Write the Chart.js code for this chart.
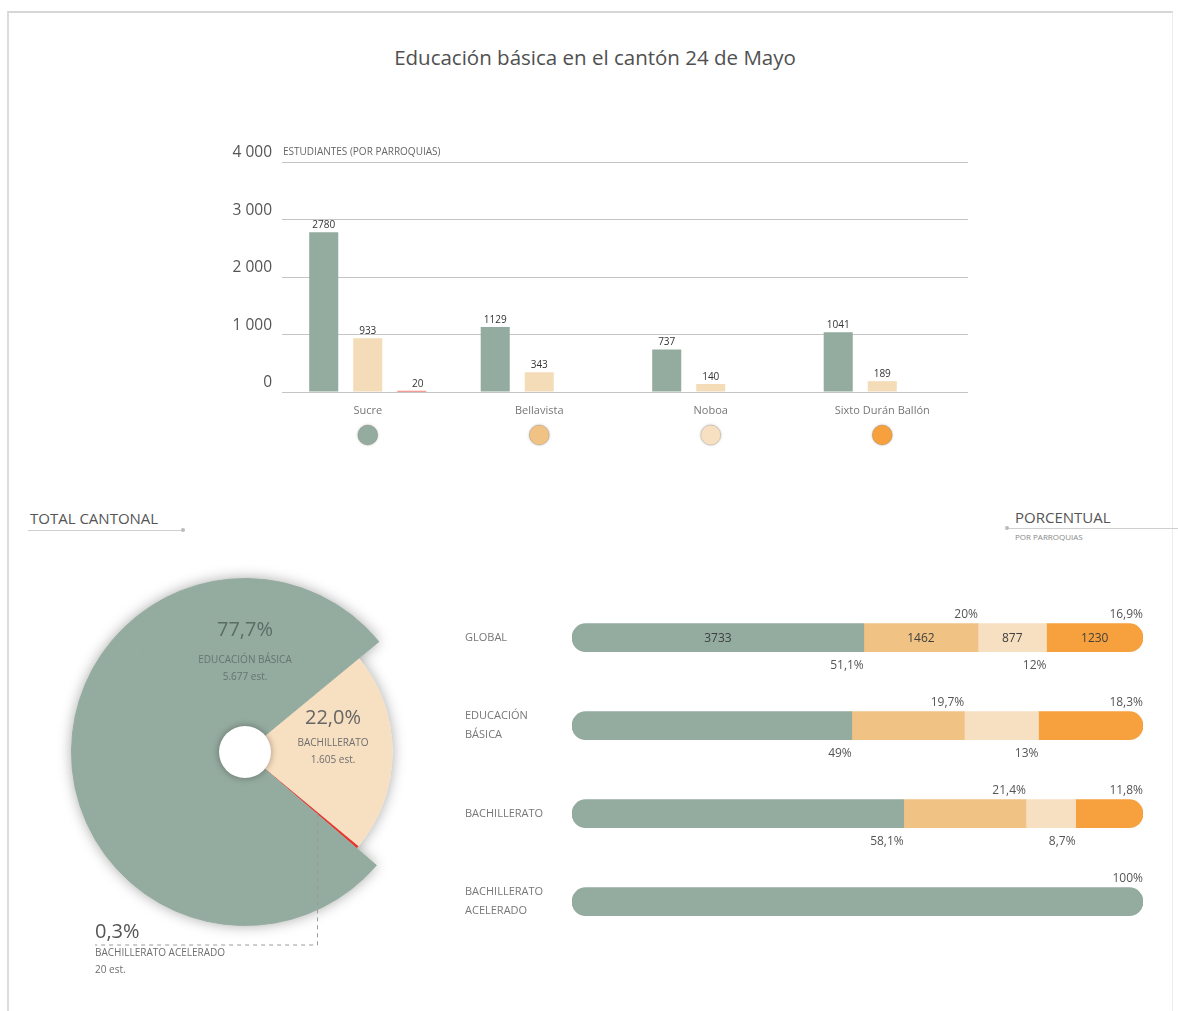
<!DOCTYPE html>
<html><head><meta charset="utf-8">
<script src="https://cdn.jsdelivr.net/npm/chart.js@4.4.1/dist/chart.umd.min.js"></script>
<style>
html,body{margin:0;padding:0;background:#fff;width:1178px;height:1011px;overflow:hidden;font-family:'Open Sans',sans-serif;}
.abs{position:absolute;}
#frame{left:7px;top:11px;width:1163px;height:1010px;border-top:2px solid #d6d6d6;border-left:2px solid #dcdcdc;border-right:1px solid #ececec;}
#title{left:0;width:1190px;top:43px;text-align:center;font-size:20.5px;color:#505050;}
.hdr{font-size:15px;color:#555;}
.sub{font-size:8px;color:#888;}
.line{height:1px;background:#cfcfcf;}
.dot{width:4px;height:4px;border-radius:2px;background:#bbb;}
canvas{position:absolute;}
</style></head>
<body>
<div id="frame" class="abs"></div>
<div id="title" class="abs">Educación básica en el cantón 24 de Mayo</div>
<div class="abs hdr" style="left:30px;top:508px;">TOTAL CANTONAL</div>
<div class="abs line" style="left:28px;top:530px;width:155px;"></div>
<div class="abs dot" style="left:181px;top:528px;"></div>
<div class="abs hdr" style="left:1015px;top:507px;">PORCENTUAL</div>
<div class="abs sub" style="left:1015px;top:531px;">POR PARROQUIAS</div>
<div class="abs line" style="left:1007px;top:528px;width:171px;"></div>
<div class="abs dot" style="left:1005px;top:526px;"></div>
<canvas id="bars" width="800" height="330" style="left:200px;top:130px;"></canvas>
<canvas id="pie" width="430" height="470" style="left:0px;top:540px;"></canvas>
<canvas id="hbar" width="723" height="380" style="left:455px;top:575px;"></canvas>
<script>
// ---------- DATA ----------
const categories = ['Sucre', 'Bellavista', 'Noboa', 'Sixto Durán Ballón'];
const basica = [2780, 1129, 737, 1041];
const bachillerato = [933, 343, 140, 189];
const acelerado = [20, null, null, null];
const yTicks = [0, 1000, 2000, 3000, 4000];

const pieLabels = ['Bachillerato', 'Bachillerato acelerado', 'Educación básica'];
const piePct = [22.0, 0.3, 77.7];
const pieStudents = ['1.605', '20', '5.677'];

const rowLabels = [['GLOBAL'], ['EDUCACIÓN', 'BÁSICA'], ['BACHILLERATO'], ['BACHILLERATO', 'ACELERADO']];
const pctSucre = [51.1, 49, 58.1, 100];
const pctBellavista = [20, 19.7, 21.4, null];
const pctNoboa = [12, 13, 8.7, null];
const pctSixto = [16.9, 18.3, 11.8, null];
const globalCounts = [3733, 1462, 877, 1230];

// ---------- STYLE ----------
const C = {teal:'#94ab9f', lightOrange:'#f0c283', cream:'#f7dfc1', orange:'#f6a13d', red:'#e8362b', creamTop:'#f5dcb8'};
const parishColors = [C.teal, C.lightOrange, C.cream, C.orange];
Chart.defaults.font.family = "'Open Sans', sans-serif";
const fmtPct = v => String(v).replace('.', ',') + '%';

// ---------- TOP BAR CHART ----------
const topPlugin = {
  id: 'topPlugin',
  afterDatasetsDraw(chart) {
    const ctx = chart.ctx;
    ctx.save();
    ctx.font = "10px 'Open Sans'";
    ctx.fillStyle = '#333';
    ctx.textAlign = 'center';
    ctx.textBaseline = 'bottom';
    chart.data.datasets.forEach((ds, di) => {
      chart.getDatasetMeta(di).data.forEach((bar, i) => {
        const v = ds.data[i];
        if (v == null) return;
        const dx = di === 2 ? 6 : 0;
        ctx.fillText(String(v), bar.x + dx, bar.y - 2);
      });
    });
    const ys = chart.scales.y;
    ctx.font = "10px 'Open Sans'";
    ctx.fillStyle = '#666';
    ctx.textAlign = 'left';
    ctx.textBaseline = 'middle';
    ctx.fillText('ESTUDIANTES (POR PARROQUIAS)', chart.chartArea.left + 1, ys.getPixelForValue(4000) - 10);
    const xs = chart.scales.x;
    categories.forEach((c, i) => {
      const x = xs.getPixelForValue(i);
      ctx.save();
      ctx.shadowColor = 'rgba(0,0,0,0.25)';
      ctx.shadowBlur = 3;
      ctx.beginPath();
      ctx.arc(x, 305, 10, 0, Math.PI * 2);
      ctx.fillStyle = parishColors[i];
      ctx.fill();
      ctx.restore();
      ctx.beginPath();
      ctx.arc(x, 305, 10, 0, Math.PI * 2);
      ctx.strokeStyle = 'rgba(0,0,0,0.12)';
      ctx.lineWidth = 1;
      ctx.stroke();
    });
    ctx.restore();
  }
};

new Chart(document.getElementById('bars'), {
  type: 'bar',
  data: {
    labels: categories,
    datasets: [
      {label: 'Educación básica', data: basica, backgroundColor: C.teal},
      {label: 'Bachillerato', data: bachillerato, backgroundColor: C.creamTop},
      {label: 'Bachillerato acelerado', data: acelerado, backgroundColor: C.red}
    ]
  },
  options: {
    responsive: false, animation: false, events: [],
    layout: {padding: {left: 0, right: 32, top: 32, bottom: 0}},
    plugins: {legend: {display: false}, tooltip: {enabled: false}},
    datasets: {bar: {categoryPercentage: 0.77, barPercentage: 0.66}},
    scales: {
      x: {
        grid: {display: false}, border: {display: false},
        ticks: {color: '#777', font: {size: 11}, padding: 4},
        afterFit(s) { s.height = 68; }
      },
      y: {
        min: 0, max: 4000,
        afterBuildTicks(s) { s.ticks = yTicks.map(v => ({value: v})); },
        grid: {color: '#c4c4c4', drawTicks: false}, border: {display: false},
        ticks: {color: '#555', font: {size: 15.5}, padding: 10, labelOffset: -9,
          callback: v => v === 0 ? '0' : (v / 1000) + ' 000'},
        afterFit(s) { s.width = 82; }
      }
    }
  },
  plugins: [topPlugin]
});

// ---------- PIE ----------
const piePlugin = {
  id: 'piePlugin',
  beforeDatasetsDraw(chart) {
    const ctx = chart.ctx;
    const outer = chart.getDatasetMeta(0).data;
    const inner = chart.getDatasetMeta(1).data;
    const cx = inner[0].x, cy = inner[0].y;
    ctx.save();
    ctx.shadowColor = 'rgba(0,0,0,0.35)';
    ctx.shadowBlur = 14;
    ctx.fillStyle = '#fff';
    ctx.beginPath();
    ctx.moveTo(cx, cy);
    inner.forEach((a, i) => {
      const r = i === 2 ? outer[2].outerRadius : a.outerRadius;
      ctx.arc(cx, cy, r, a.startAngle, a.endAngle);
    });
    ctx.closePath();
    ctx.fill();
    ctx.restore();
  },
  afterDatasetsDraw(chart) {
    const ctx = chart.ctx;
    const inner = chart.getDatasetMeta(1).data;
    const cx = inner[0].x, cy = inner[0].y;
    const hole = inner[0].innerRadius;
    ctx.save();
    ctx.shadowColor = 'rgba(0,0,0,0.35)';
    ctx.shadowBlur = 7;
    ctx.fillStyle = '#fff';
    ctx.beginPath();
    ctx.arc(cx, cy, hole + 1, 0, Math.PI * 2);
    ctx.fill();
    ctx.restore();
    // dashed leader from the small slice
    const red = inner[1];
    const mid = (red.startAngle + red.endAngle) / 2;
    const px = cx + 95 * Math.cos(mid), py = cy + 95 * Math.sin(mid);
    ctx.save();
    ctx.strokeStyle = '#9a9a9a';
    ctx.lineWidth = 1;
    ctx.setLineDash([4, 4]);
    ctx.beginPath();
    ctx.moveTo(px, py);
    ctx.lineTo(px, cy + 193);
    ctx.lineTo(95, cy + 193);
    ctx.stroke();
    ctx.restore();
    // texts
    ctx.save();
    ctx.textBaseline = 'middle';
    ctx.textAlign = 'center';
    ctx.font = "20px 'Open Sans'";
    ctx.fillStyle = '#5b6e65';
    ctx.fillText(fmtPct(piePct[2].toFixed(1)), cx, cy - 122);
    ctx.font = "10px 'Open Sans'";
    ctx.fillStyle = '#66756e';
    ctx.fillText(pieLabels[2].toUpperCase(), cx, cy - 92);
    ctx.fillText(pieStudents[2] + ' est.', cx, cy - 75);
    ctx.font = "20px 'Open Sans'";
    ctx.fillStyle = '#666';
    ctx.fillText(fmtPct(piePct[0].toFixed(1)), cx + 88, cy - 34);
    ctx.font = "10px 'Open Sans'";
    ctx.fillStyle = '#6e6e6e';
    ctx.fillText(pieLabels[0].toUpperCase(), cx + 88, cy - 9);
    ctx.fillText(pieStudents[0] + ' est.', cx + 88, cy + 8);
    ctx.textAlign = 'left';
    ctx.font = "20px 'Open Sans'";
    ctx.fillStyle = '#555';
    ctx.fillText(fmtPct(piePct[1].toFixed(1)), 95, cy + 180);
    ctx.font = "10px 'Open Sans'";
    ctx.fillStyle = '#6e6e6e';
    ctx.fillText(pieLabels[1].toUpperCase(), 95, cy + 201);
    ctx.fillText(pieStudents[1] + ' est.', 95, cy + 218);
    ctx.restore();
  }
};

new Chart(document.getElementById('pie'), {
  type: 'doughnut',
  data: {
    labels: pieLabels,
    datasets: [
      {data: piePct, backgroundColor: ['rgba(0,0,0,0)', 'rgba(0,0,0,0)', C.teal],
       borderColor: ['rgba(0,0,0,0)', 'rgba(0,0,0,0)', C.teal], borderWidth: [0, 0, 1], weight: 26},
      {data: piePct, backgroundColor: [C.cream, C.red, C.teal],
       borderColor: [C.cream, C.red, C.teal], borderWidth: [0, 0, 1], weight: 123}
    ]
  },
  options: {
    responsive: false, animation: false, events: [],
    cutout: 25, rotation: 50.5,
    layout: {padding: {left: 71, top: 38, right: 11, bottom: 84}},
    plugins: {legend: {display: false}, tooltip: {enabled: false}}
  },
  plugins: [piePlugin]
});

// ---------- HORIZONTAL STACKED ----------
const pctSets = [pctSucre, pctBellavista, pctNoboa, pctSixto];
function radiusFor(ctx) {
  const row = ctx.dataIndex, ds = ctx.datasetIndex;
  const nz = pctSets.map((s, k) => s[row] > 0 ? k : -1).filter(k => k >= 0);
  const first = nz[0], last = nz[nz.length - 1];
  const r = 14;
  return {topLeft: ds === first ? r : 0, bottomLeft: ds === first ? r : 0,
          topRight: ds === last ? r : 0, bottomRight: ds === last ? r : 0};
}
const hPlugin = {
  id: 'hPlugin',
  afterDatasetsDraw(chart) {
    const ctx = chart.ctx;
    ctx.save();
    ctx.font = "12px 'Open Sans'";
    ctx.fillStyle = '#555';
    rowLabels.forEach((lab, row) => {
      const segs = [];
      pctSets.forEach((s, k) => { if (s[row] > 0) segs.push({k, v: s[row], el: chart.getDatasetMeta(k).data[row]}); });
      segs.forEach((sg, j) => {
        const above = segs.length === 1 || j % 2 === 1;
        ctx.textAlign = 'right';
        ctx.textBaseline = 'middle';
        ctx.fillStyle = '#555';
        ctx.fillText(fmtPct(sg.v), sg.el.x, above ? sg.el.y - 23 : sg.el.y + 28);
      });
    });
    ctx.textAlign = 'center';
    ctx.textBaseline = 'middle';
    ctx.fillStyle = '#3f3f3f';
    globalCounts.forEach((c, k) => {
      const el = chart.getDatasetMeta(k).data[0];
      ctx.fillText(String(c), (el.x + el.base) / 2, el.y + 1);
    });
    ctx.restore();
  }
};

new Chart(document.getElementById('hbar'), {
  type: 'bar',
  data: {
    labels: rowLabels,
    datasets: categories.map((c, k) => ({
      label: c, data: pctSets[k], backgroundColor: parishColors[k]
    }))
  },
  options: {
    indexAxis: 'y', responsive: false, animation: false, events: [],
    layout: {padding: {left: 10, right: 35, top: 6, bottom: 1}},
    plugins: {legend: {display: false}, tooltip: {enabled: false}},
    datasets: {bar: {barThickness: 28, borderSkipped: false, borderWidth: 0, borderRadius: radiusFor}},
    scales: {
      x: {stacked: true, min: 0, max: 100, display: false},
      y: {
        stacked: true,
        grid: {display: false}, border: {display: false},
        ticks: {crossAlign: 'far', color: '#777', font: {size: 11, lineHeight: 1.7}, padding: 0},
        afterFit(s) { s.width = 107; }
      }
    }
  },
  plugins: [hPlugin]
});
</script>
</body></html>
